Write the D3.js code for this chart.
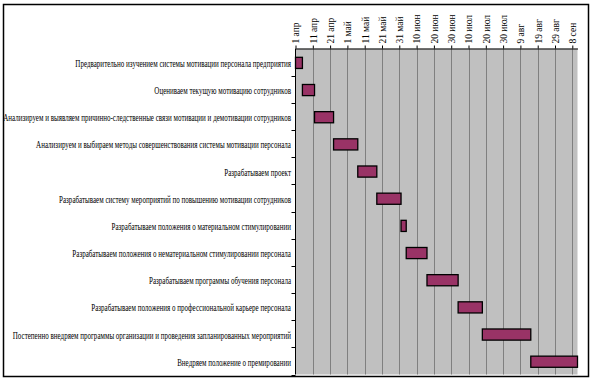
<!DOCTYPE html>
<html lang="ru">
<head>
<meta charset="utf-8">
<title>Диаграмма Ганта</title>
<script type="text/javascript" src="https://cdn.jsdelivr.net/npm/d3@7"></script>
<style>
  body { margin: 0; background: #fff; }
  svg { display: block; font-family: "Liberation Serif", "Times New Roman", serif; }
</style>
</head>
<body>
<div id="chart"></div>
<script type="text/javascript">
const tasks = [
  "Предварительно изучением системы мотивации персонала предприятия",
  "Оцениваем текущую мотивацию сотрудников",
  "Анализируем и выявляем причинно-следственные связи мотивации и демотивации сотрудников",
  "Анализируем и выбираем методы совершенствования системы мотивации персонала",
  "Разрабатываем проект",
  "Разрабатываем систему мероприятий по повышению мотивации сотрудников",
  "Разрабатываем положения о материальном стимулировании",
  "Разрабатываем положения о нематериальном стимулировании персонала",
  "Разрабатываем программы обучения персонала",
  "Разрабатываем положения о профессиональной карьере персонала",
  "Постепенно внедряем программы организации и проведения запланированных мероприятий",
  "Внедряем положение о премировании"
];
const startDates = ["2011-04-01", "2011-04-05", "2011-04-12", "2011-04-23", "2011-05-07", "2011-05-18",
  "2011-06-01", "2011-06-04", "2011-06-16", "2011-07-04", "2011-07-18", "2011-08-15"];
const endDates = ["2011-04-05", "2011-04-12", "2011-04-23", "2011-05-07", "2011-05-18", "2011-06-01",
  "2011-06-04", "2011-06-16", "2011-07-04", "2011-07-18", "2011-08-15", "2011-09-11"];
const tickDates = ["2011-04-01", "2011-04-11", "2011-04-21", "2011-05-01", "2011-05-11", "2011-05-21",
  "2011-05-31", "2011-06-10", "2011-06-20", "2011-06-30", "2011-07-10", "2011-07-20", "2011-07-30",
  "2011-08-09", "2011-08-19", "2011-08-29", "2011-09-08"];
const tickLabels = ["1 апр", "11 апр", "21 апр", "1 май", "11 май", "21 май", "31 май", "10 июн",
  "20 июн", "30 июн", "10 июл", "20 июл", "30 июл", "9 авг", "19 авг", "29 авг", "8 сен"];
const axisStart = "2011-04-01", axisEnd = "2011-09-11";

const parse = d3.utcParse("%Y-%m-%d");
const data = tasks.map((t, i) => ({ task: t, start: parse(startDates[i]), end: parse(endDates[i]) }));

let w = 592, h = 382;
let pLeft = 295.5, pRight = 577.5, pTop = 48.5, pBottom = 374.5;

let svg = d3.select("#chart").append("svg").attr("width", w).attr("height", h);

// outer frame
svg.append("rect")
  .attr("x", 3.5).attr("y", 4.5).attr("width", 585).attr("height", 372)
  .attr("fill", "none").attr("stroke", "#000").attr("stroke-width", 1.5);

let xScale = d3.scaleUtc()
  .domain([parse(axisStart), parse(axisEnd)])
  .range([pLeft, pRight]);

let yScale = d3.scaleBand()
  .domain(tasks)
  .range([pTop, pBottom]);

// plot background
svg.append("rect")
  .attr("x", pLeft).attr("y", pTop)
  .attr("width", pRight - pLeft).attr("height", pBottom - pTop)
  .attr("fill", "#c0c0c0");

// vertical grid
svg.append("g")
  .selectAll("line")
  .data(tickDates.slice(1).map(parse))
  .enter()
  .append("line")
  .attr("x1", d => Math.round(xScale(d)) + 0.5)
  .attr("x2", d => Math.round(xScale(d)) + 0.5)
  .attr("y1", pTop).attr("y2", pBottom)
  .attr("stroke", "#808080").attr("stroke-width", 1);

// bars
let bh = yScale.bandwidth() * 0.41;
svg.append("g")
  .selectAll("rect")
  .data(data)
  .enter()
  .append("rect")
  .attr("x", d => xScale(d.start))
  .attr("y", d => yScale(d.task) + (yScale.bandwidth() - bh) / 2 + 0.8)
  .attr("width", d => xScale(d.end) - xScale(d.start))
  .attr("height", bh)
  .attr("fill", "#993366")
  .attr("stroke", "#000")
  .attr("stroke-width", 1.3);

// top date axis
let xAxis = d3.axisTop(xScale)
  .tickValues(tickDates.map(parse))
  .tickFormat((d, i) => tickLabels[i])
  .tickSize(3)
  .tickSizeOuter(0);

let gx = svg.append("g")
  .attr("transform", "translate(0," + pTop + ")")
  .call(xAxis);
gx.select(".domain").attr("stroke", "#000");
gx.selectAll(".tick line").attr("stroke", "#000");
gx.selectAll("text")
  .attr("transform", "rotate(-90)")
  .attr("x", 5).attr("y", 0).attr("dy", "0.35em")
  .style("text-anchor", "start")
  .style("font-family", "'Liberation Serif', serif")
  .style("font-size", "9.5px")
  .attr("fill", "#000");

// left category axis (ticks on band boundaries)
let gy = svg.append("g");
gy.append("line")
  .attr("x1", pLeft).attr("x2", pLeft)
  .attr("y1", pTop).attr("y2", pBottom)
  .attr("stroke", "#000");
gy.selectAll(".bt")
  .data(tasks.slice(1).map(t => yScale(t)).concat([pBottom]))
  .enter()
  .append("line")
  .attr("class", "bt")
  .attr("x1", pLeft - 4).attr("x2", pLeft)
  .attr("y1", d => Math.round(d) + 0.5).attr("y2", d => Math.round(d) + 0.5)
  .attr("stroke", "#000");

gy.selectAll(".lbl")
  .data(tasks)
  .enter()
  .append("g")
  .attr("class", "lbl")
  .attr("transform", d => "translate(" + (pLeft - 4.5) + "," + (yScale(d) + yScale.bandwidth() / 2 + 1.5) + ") scale(0.74,1)")
  .append("text")
  .attr("text-anchor", "end")
  .attr("dy", "0.35em")
  .style("font-size", "9.5px")
  .attr("fill", "#000")
  .text(d => d);
</script>
</body>
</html>
